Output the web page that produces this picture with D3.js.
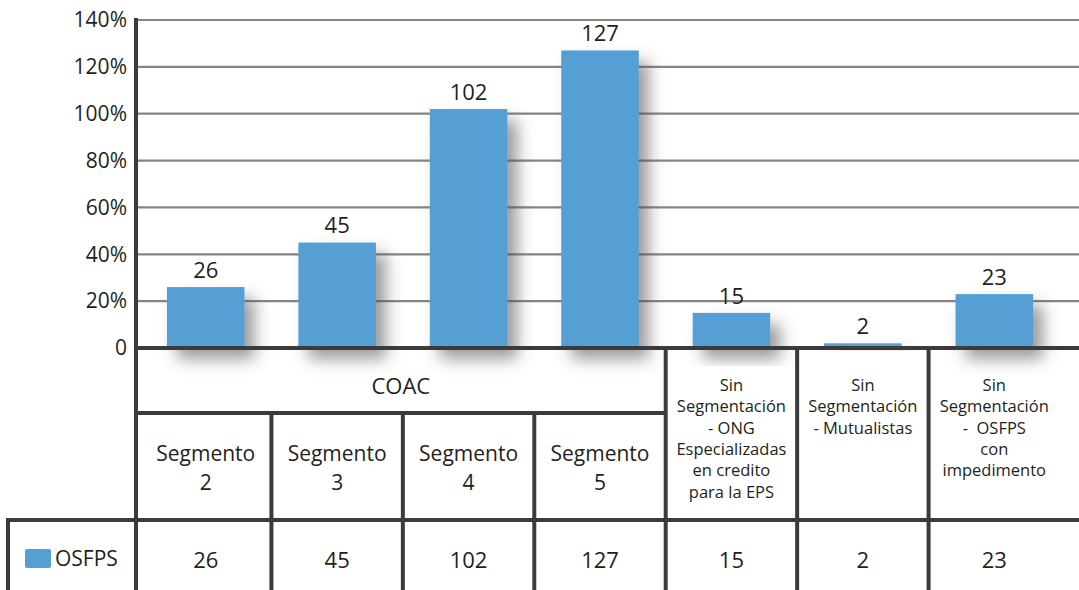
<!DOCTYPE html>
<meta charset="utf-8">
<script src="https://d3js.org/d3.v7.min.js"></script>
<style>
    body { margin: 0; background: #fff; }
    svg { display: block; font-family: "Open Sans", Arial, sans-serif; }
    text { fill: #231f20; }
</style>
<div id="my_dataviz"></div>
<script>

    // data
    var categories = ["Segmento 2", "Segmento 3", "Segmento 4", "Segmento 5",
        "Sin Segmentación - ONG", "Sin Segmentación - Mutualistas", "Sin Segmentación - OSFPS"];
    var categoryLines = [
        ["Segmento", "2"], ["Segmento", "3"], ["Segmento", "4"], ["Segmento", "5"],
        ["Sin", "Segmentación", "- ONG", "Especializadas", "en credito", "para la EPS"],
        ["Sin", "Segmentación", "- Mutualistas"],
        ["Sin", "Segmentación", "-  OSFPS", "con", "impedimento"]
    ];
    var groupName = "COAC";
    var groupSize = 4;   // first 4 categories belong to COAC
    var seriesName = "OSFPS";
    var values = [26, 45, 102, 127, 15, 2, 23];
    var yTicks = [0, 20, 40, 60, 80, 100, 120, 140];

    var W = 1079, H = 590;
    var lineCol = "#3b3b3b", gridCol = "#858585", barCol = "#569fd5";

    var svg = d3.select("#my_dataviz")
        .append("svg")
        .attr("width", W)
        .attr("height", H);

    // drop shadow for the bars
    var defs = svg.append("defs");
    var f = defs.append("filter").attr("id", "shadow")
        .attr("x", "-30%").attr("y", "-30%").attr("width", "180%").attr("height", "180%");
    f.append("feDropShadow")
        .attr("dx", 10).attr("dy", 11).attr("stdDeviation", 8)
        .attr("flood-color", "#4a4a4a").attr("flood-opacity", 0.55);

    // scales
    var x = d3.scaleBand()
        .domain(categories)
        .range([140, 1060])
        .padding(0);
    var y = d3.scaleLinear()
        .domain([0, 140])
        .range([348, 20]);

    var axisX = 136;
    var rowTop = y(0), rowMid = 413, rowBot = 520;

    // gridlines
    svg.append("g")
        .selectAll("line")
        .data(yTicks.filter(function (d) { return d > 0; }))
        .enter().append("line")
        .attr("x1", axisX).attr("x2", W)
        .attr("y1", function (d) { return y(d); })
        .attr("y2", function (d) { return y(d); })
        .attr("stroke", gridCol)
        .attr("stroke-width", 2.2);

    // y tick labels
    svg.append("g")
        .selectAll("text")
        .data(yTicks)
        .enter().append("text")
        .attr("x", 127)
        .attr("y", function (d) { return y(d); })
        .attr("dy", "0.35em")
        .attr("text-anchor", "end")
        .style("font-size", "21px")
        .text(function (d) { return d === 0 ? "0" : d + "%"; });

    // bars
    var bw = x.bandwidth() * 0.59;
    svg.append("g")
        .selectAll("rect")
        .data(values)
        .enter().append("rect")
        .attr("x", function (d, i) { return x(categories[i]) + (x.bandwidth() - bw) / 2; })
        .attr("y", function (d) { return y(d); })
        .attr("width", bw)
        .attr("height", function (d) { return y(0) - y(d); })
        .attr("fill", barCol)
        .attr("filter", "url(#shadow)");

    // bar value labels
    svg.append("g")
        .selectAll("text")
        .data(values)
        .enter().append("text")
        .attr("x", function (d, i) { return x(categories[i]) + x.bandwidth() / 2; })
        .attr("y", function (d) { return y(d) - 17; })
        .attr("dy", "0.35em")
        .attr("text-anchor", "middle")
        .style("font-size", "22px")
        .text(function (d) { return d; });

    // table lines
    var lines = svg.append("g")
        .attr("stroke", lineCol)
        .attr("stroke-width", 4);

    // y axis / left border
    lines.append("line").attr("x1", axisX).attr("x2", axisX).attr("y1", 18).attr("y2", H);
    // baseline
    lines.append("line").attr("x1", axisX).attr("x2", W).attr("y1", rowTop).attr("y2", rowTop);
    // line under COAC
    var groupEnd = x(categories[groupSize - 1]) + x.bandwidth();
    lines.append("line").attr("x1", axisX).attr("x2", groupEnd).attr("y1", rowMid).attr("y2", rowMid);
    // line above values row
    lines.append("line").attr("x1", 8).attr("x2", W).attr("y1", rowBot).attr("y2", rowBot);
    // legend cell left border
    lines.append("line").attr("x1", 8).attr("x2", 8).attr("y1", rowBot - 2).attr("y2", H);
    // column separators
    categories.slice(1).forEach(function (c, i) {
        var xx = x(c);
        var top = (i + 1) < groupSize ? rowMid : rowTop;
        lines.append("line").attr("x1", xx).attr("x2", xx).attr("y1", top).attr("y2", H);
    });

    // group label
    svg.append("text")
        .attr("x", (axisX + groupEnd) / 2)
        .attr("y", 386)
        .attr("dy", "0.35em")
        .attr("text-anchor", "middle")
        .style("font-size", "22px")
        .text(groupName);

    // category labels
    categoryLines.forEach(function (ls, i) {
        var cx = x(categories[i]) + x.bandwidth() / 2;
        var inGroup = i < groupSize;
        var t = svg.append("text")
            .attr("text-anchor", "middle")
            .style("font-size", inGroup ? "21px" : "16.5px");
        ls.forEach(function (s, j) {
            t.append("tspan")
                .attr("x", cx)
                .attr("y", inGroup ? 454 + j * 28.5 : 385 + j * 21.4)
                .attr("dy", "0.35em")
                .style("white-space", "pre")
                .text(s);
        });
    });

    // values row
    svg.append("g")
        .selectAll("text")
        .data(values)
        .enter().append("text")
        .attr("x", function (d, i) { return x(categories[i]) + x.bandwidth() / 2; })
        .attr("y", 560)
        .attr("dy", "0.35em")
        .attr("text-anchor", "middle")
        .style("font-size", "22px")
        .text(function (d) { return d; });

    // legend
    svg.append("rect")
        .attr("x", 25).attr("y", 549).attr("width", 26).attr("height", 19)
        .attr("rx", 2)
        .attr("fill", barCol);
    svg.append("text")
        .attr("x", 55).attr("y", 559)
        .attr("dy", "0.35em")
        .style("font-size", "21px")
        .text(seriesName);

</script>
